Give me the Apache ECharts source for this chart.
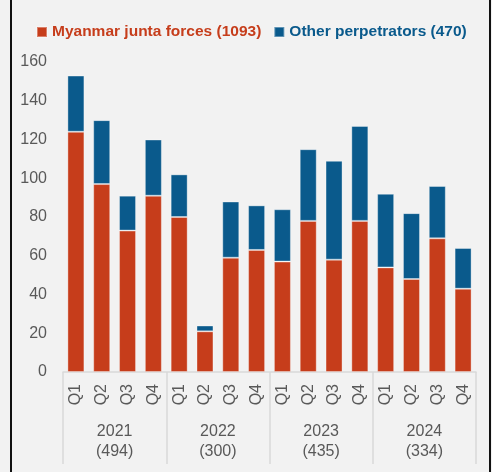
<!DOCTYPE html>
<html>
<head>
<meta charset="utf-8">
<script src="https://cdn.jsdelivr.net/npm/echarts@6/dist/echarts.min.js"></script>
<style>
  html, body { margin: 0; padding: 0; background: #f2f2f2; }
  #main { width: 492px; height: 472px; }
  .edge { position: absolute; top: 0; width: 2px; height: 472px; background: #111; }
</style>
</head>
<body>
<div id="main"></div>
<div class="edge" style="left:10px"></div>
<div class="edge" style="left:489px"></div>
<script>
  var quarters = ['Q1', 'Q2', 'Q3', 'Q4', 'Q1', 'Q2', 'Q3', 'Q4', 'Q1', 'Q2', 'Q3', 'Q4', 'Q1', 'Q2', 'Q3', 'Q4'];
  var years = ['2021\n(494)', '2022\n(300)', '2023\n(435)', '2024\n(334)'];
  var juntaForces = [124, 97, 73, 91, 80, 21, 59, 63, 57, 78, 58, 78, 54, 48, 69, 43];
  var otherPerpetrators = [29, 33, 18, 29, 22, 3, 29, 23, 27, 37, 51, 49, 38, 34, 27, 21];
  var yTicks = [0, 20, 40, 60, 80, 100, 120, 140, 160];

  var font = "'Liberation Sans', Arial, sans-serif";
  var myChart = echarts.init(document.getElementById('main'));

  myChart.setOption({
    backgroundColor: '#f2f2f2',
    animation: false,
    legend: {
      left: 31,
      top: 19,
      itemWidth: 10,
      itemHeight: 10,
      itemGap: 12,
      icon: 'rect',
      textStyle: { fontFamily: font, fontSize: 15.5, fontWeight: 'bold' },
      data: [
        { name: 'Myanmar junta forces (1093)', textStyle: { color: '#c63d1b' } },
        { name: 'Other perpetrators (470)', textStyle: { color: '#0a5a8c' } }
      ]
    },
    grid: { left: 63, right: 16, top: 62, bottom: 100 },
    xAxis: [{
      type: 'category',
      data: quarters,
      axisLine: { lineStyle: { color: '#d9d9d9', width: 1.5 } },
      axisTick: { show: false },
      axisLabel: { rotate: 90, margin: 12, color: '#595959', fontFamily: font, fontSize: 16, interval: 0 }
    }, {
      type: 'category',
      data: years,
      position: 'bottom',
      axisLine: { show: false },
      axisTick: { show: true, length: 92, interval: 0, lineStyle: { color: '#d9d9d9', width: 1.5 } },
      axisLabel: { margin: 50, color: '#595959', fontFamily: font, fontSize: 16, lineHeight: 20, interval: 0 }
    }],
    yAxis: {
      type: 'value',
      min: yTicks[0],
      max: yTicks[yTicks.length - 1],
      interval: 20,
      splitLine: { show: false },
      axisLine: { show: false },
      axisTick: { show: false },
      axisLabel: { margin: 16, color: '#595959', fontFamily: font, fontSize: 16 }
    },
    series: [{
      name: 'Myanmar junta forces (1093)',
      type: 'bar',
      stack: 'total',
      barWidth: 17,
      itemStyle: { color: '#c63d1b', borderColor: 'rgba(255,255,255,0.35)', borderWidth: 1 },
      data: juntaForces
    }, {
      name: 'Other perpetrators (470)',
      type: 'bar',
      stack: 'total',
      barWidth: 17,
      itemStyle: { color: '#0a5a8c', borderColor: 'rgba(255,255,255,0.35)', borderWidth: 1 },
      data: otherPerpetrators
    }]
  });
</script>
</body>
</html>
